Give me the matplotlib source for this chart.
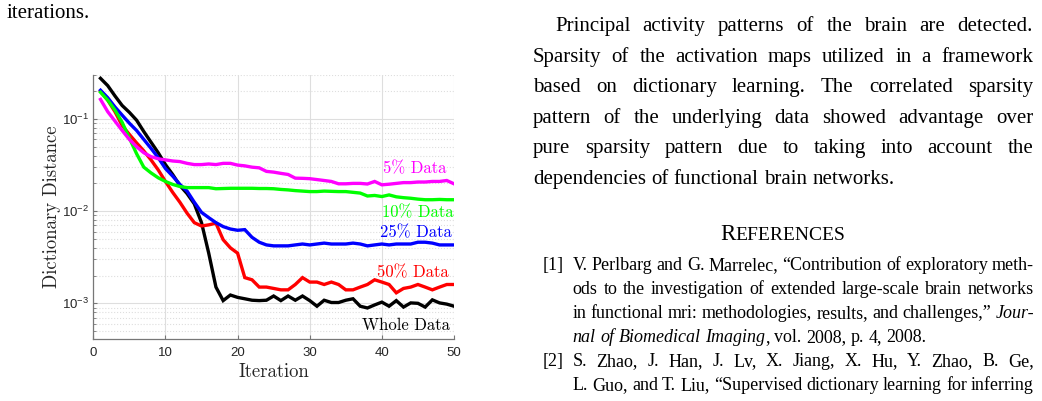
import matplotlib
matplotlib.use("Agg")
import matplotlib.pyplot as plt
import numpy as np

W, H = 1042, 401

iterations = np.arange(1, 51)

whole = [0.276, 0.23, 0.178, 0.14, 0.118, 0.097, 0.073, 0.056, 0.043, 0.032,
         0.025, 0.019, 0.0155, 0.012, 0.0075, 0.0035, 0.0015, 0.00107, 0.00123, 0.00116,
         0.00112, 0.00108, 0.00107, 0.00108, 0.0012, 0.00107, 0.0012, 0.00108, 0.0012, 0.00107,
         0.00093, 0.00108, 0.00102, 0.00102, 0.00108, 0.00112, 0.00093, 0.00089, 0.00096, 0.00103,
         0.00093, 0.00107, 0.00091, 0.00101, 0.001, 0.00091, 0.00109, 0.00101, 0.00098, 0.00093]
data50 = [0.2, 0.16, 0.12, 0.085, 0.068, 0.055, 0.045, 0.036, 0.028, 0.021,
          0.016, 0.0125, 0.0095, 0.0075, 0.0069, 0.0071, 0.0074, 0.0049, 0.004, 0.0035,
          0.0019, 0.0018, 0.0015, 0.0015, 0.00145, 0.0014, 0.0014, 0.0016, 0.0019, 0.0017,
          0.0017, 0.0016, 0.0017, 0.0016, 0.0014, 0.0014, 0.0015, 0.0016, 0.0018, 0.0017,
          0.0016, 0.0013, 0.00145, 0.0015, 0.0016, 0.0015, 0.0014, 0.0015, 0.0016, 0.0016]
data25 = [0.205, 0.17, 0.135, 0.11, 0.09, 0.075, 0.06, 0.048, 0.038, 0.029,
          0.024, 0.0195, 0.0165, 0.0125, 0.0097, 0.0085, 0.0075, 0.0068, 0.0064, 0.0062,
          0.0063, 0.0052, 0.0046, 0.0043, 0.0042, 0.0042, 0.0042, 0.0043, 0.0044, 0.0043,
          0.0044, 0.0045, 0.0044, 0.0044, 0.0044, 0.0045, 0.0044, 0.0042, 0.0043, 0.0044,
          0.0043, 0.0044, 0.0044, 0.0044, 0.0046, 0.0046, 0.0045, 0.0043, 0.0043, 0.0043]
data10 = [0.195, 0.16, 0.125, 0.092, 0.062, 0.042, 0.03, 0.026, 0.023, 0.021,
          0.0195, 0.0185, 0.018, 0.018, 0.018, 0.018, 0.0175, 0.0176, 0.0177, 0.0177,
          0.0177, 0.0177, 0.0176, 0.0176, 0.0175, 0.0172, 0.017, 0.0167, 0.0165, 0.0163,
          0.0163, 0.0165, 0.0164, 0.0163, 0.0163, 0.016, 0.0157, 0.0146, 0.0148, 0.0144,
          0.015, 0.0143, 0.014, 0.0138, 0.0135, 0.0133, 0.0133, 0.0134, 0.0133, 0.0133]
data5 = [0.163, 0.12, 0.095, 0.075, 0.06, 0.05, 0.043, 0.039, 0.037, 0.036,
         0.035, 0.0345, 0.033, 0.032, 0.032, 0.0325, 0.032, 0.033, 0.033, 0.0316,
         0.031, 0.03, 0.0295, 0.027, 0.0265, 0.0257, 0.025, 0.0228, 0.0227, 0.0225,
         0.022, 0.0215, 0.021, 0.0198, 0.0198, 0.02, 0.02, 0.0197, 0.021, 0.0193,
         0.0196, 0.02, 0.0204, 0.0204, 0.0207, 0.0207, 0.021, 0.021, 0.0215, 0.0198]

series = [whole, data50, data25, data10, data5]
colors = ["black", "red", "blue", "#00ff00", "magenta"]
labels = ["Whole Data", "50% Data", "25% Data", "10% Data", "5% Data"]
# label anchor (right edge x, centre y) in data coords
label_x = [49.4, 49.2, 49.75, 50.0, 49.0]
label_y = [0.00058, 0.00214, 0.0058, 0.0096, 0.0292]

body = [
    "Principal activity patterns of the brain are detected.",
    "Sparsity of the activation maps utilized in a framework",
    "based on dictionary learning. The correlated sparsity",
    "pattern of the underlying data showed advantage over",
    "pure sparsity pattern due to taking into account the",
    "dependencies of functional brain networks.",
]
ref1 = [
    "V. Perlbarg and G. Marrelec, \u201cContribution of exploratory meth-",
    "ods to the investigation of extended large-scale brain networks",
    "in functional mri: methodologies, results, and challenges,\u201d _Jour-",
    "nal of Biomedical Imaging_, vol. 2008, p. 4, 2008.",
]
ref2 = [
    "S. Zhao, J. Han, J. Lv, X. Jiang, X. Hu, Y. Zhao, B. Ge,",
    "L. Guo, and T. Liu, \u201cSupervised dictionary learning for inferring",
]

plt.rcParams["font.family"] = ["Liberation Sans", "DejaVu Sans"]
fig = plt.figure(figsize=(W / 100, H / 100), dpi=100)
ax = fig.add_axes([93.3 / W, 1 - 339 / H, 360.7 / W, 264 / H])

for vals, c in zip(series, colors):
    ax.plot(iterations, vals, color=c, lw=2.4, solid_joinstyle="miter")

ax.set_yscale("log")
ax.set_xlim(0, 50)
ax.set_ylim(4.1e-4, 0.3)
ax.set_xticks([0, 10, 20, 30, 40, 50])
ax.grid(True, which="major", color="#dedede", lw=0.8)
ax.yaxis.grid(True, which="minor", color="#dedede", ls=":", lw=0.8)
ax.set_axisbelow(True)
for s in ["top", "right"]:
    ax.spines[s].set_visible(False)
for s in ["left", "bottom"]:
    ax.spines[s].set_color("#777777")
    ax.spines[s].set_linewidth(0.9)
ax.tick_params(which="both", direction="in", colors="#777777", labelcolor="#262626", labelsize=9.5)
ax.tick_params(which="major", length=3)
ax.tick_params(which="minor", length=1.8)
ax.tick_params(axis="x", pad=6)
ax.tick_params(axis="y", pad=3)

for lab, c, lx, ly in zip(labels, colors, label_x, label_y):
    ax.text(lx, ly, lab, color=c, fontsize=12, family="cmr10", ha="right", va="center")

ax.set_xlabel("Iteration", family="cmr10", fontsize=13.5, color="#262626", va="center")
ax.xaxis.set_label_coords(0.502, -0.125)
ax.set_ylabel("Dictionary Distance", family="cmr10", fontsize=13.5, color="#262626", va="center")
ax.yaxis.set_label_coords(-0.114, 0.5)

# --- page text around the figure ---
renderer = fig.canvas.get_renderer()
SERIF = "Liberation Serif"


def parse_words(line, italic):
    words = []
    for w in line.split(" "):
        segs = []
        buf = ""
        for ch in w:
            if ch == "_":
                if buf:
                    segs.append((buf, italic))
                buf = ""
                italic = not italic
            else:
                buf += ch
        if buf:
            segs.append((buf, italic))
        words.append(segs)
    return words, italic


def put_line(line, x0, x1, y, size, justify=True, italic=False):
    words, italic = parse_words(line, italic)
    space = 0.25 * size * 100 / 72
    placed = []
    widths = []
    for segs in words:
        off = 0
        parts = []
        for s, it in segs:
            t = fig.text(0, 0, s, fontsize=size, family=SERIF, style="italic" if it else "normal",
                         ha="left", va="baseline", color="black")
            parts.append((t, off))
            off += t.get_window_extent(renderer).width
        placed.append(parts)
        widths.append(off)
    if justify and len(words) > 1:
        gap = (x1 - x0 - sum(widths)) / (len(words) - 1)
    else:
        gap = space
    x = x0
    for parts, w in zip(placed, widths):
        for t, off in parts:
            t.set_position(((x + off) / W, 1 - y / H))
        x += w + gap
    return italic


body_size = 15
ref_size = 13.0

fig.text(7 / W, 1 - 18 / H, "iterations.", fontsize=body_size, family=SERIF, va="baseline")

body_y = [31, 61.6, 92.2, 122.8, 153.4, 184]
for i, (line, y) in enumerate(zip(body, body_y)):
    x0 = 555 if i == 0 else 533
    put_line(line, x0, 1033, y, body_size, justify=(i < len(body) - 1))

# small caps heading
r = fig.text(0, 0, "R", fontsize=16.5, family=SERIF, va="baseline")
rest = fig.text(0, 0, "EFERENCES", fontsize=14, family=SERIF, va="baseline")
wr = r.get_window_extent(renderer).width
wrest = rest.get_window_extent(renderer).width
hx = 783 - (wr + wrest) / 2
r.set_position((hx / W, 1 - 240 / H))
rest.set_position(((hx + wr) / W, 1 - 240 / H))

fig.text(542.7 / W, 1 - 270 / H, "[1]", fontsize=ref_size, family=SERIF, va="baseline")
it = False
for i, (line, y) in enumerate(zip(ref1, [270, 294, 318, 342])):
    it = put_line(line, 572.7, 1034, y, ref_size, justify=(i < len(ref1) - 1), italic=it)
fig.text(542.7 / W, 1 - 366 / H, "[2]", fontsize=ref_size, family=SERIF, va="baseline")
for line, y in zip(ref2, [366, 390]):
    put_line(line, 572.7, 1034, y, ref_size, justify=True)

fig.savefig("out.png", dpi=100)
